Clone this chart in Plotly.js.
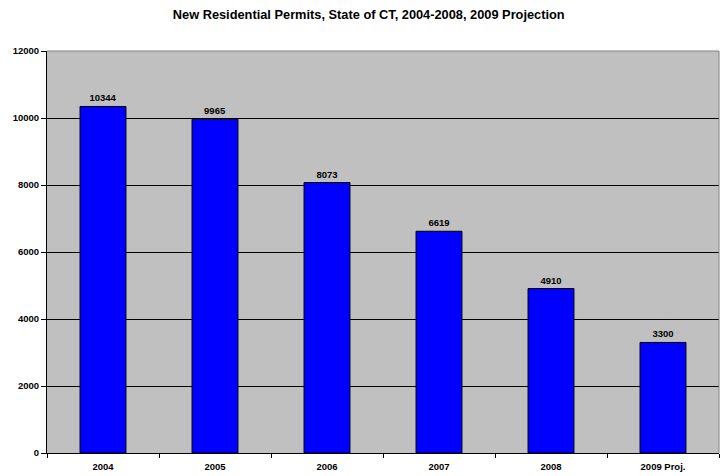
<!DOCTYPE html>
<html>
<head>
<meta charset="utf-8">
<script src="https://cdn.plot.ly/plotly-3.0.1.min.js"></script>
<style>html,body{margin:0;padding:0;background:#fff;}#chart{width:723px;height:476px;}</style>
</head>
<body>
<div id="chart"></div>
<script>
const categories = ["2004", "2005", "2006", "2007", "2008", "2009 Proj."];
const permits = [10344, 9965, 8073, 6619, 4910, 3300];
const yTicks = [0, 2000, 4000, 6000, 8000, 10000, 12000];

const font = "Liberation Sans, Arial, sans-serif";

Plotly.newPlot("chart", [{
  type: "bar",
  x: categories,
  y: permits,
  text: permits.map(String),
  textposition: "outside",
  cliponaxis: false,
  textfont: {family: font, size: 9.5, color: "#000", weight: "bold"},
  marker: {color: "#0000FF", line: {color: "#000", width: 1}},
  width: 0.41,
  hoverinfo: "x+y"
}], {
  width: 723, height: 476,
  margin: {l: 47, r: 4, t: 51, b: 23, pad: 0},
  paper_bgcolor: "#fff",
  plot_bgcolor: "#C0C0C0",
  showlegend: false,
  title: {text: "<b>New Residential Permits, State of CT, 2004-2008, 2009 Projection</b>",
          font: {family: font, size: 12.8, color: "#000"}, x: 0.51, xref: "container", xanchor: "center",
          y: 0.97, yanchor: "middle"},
  xaxis: {type: "category", tickson: "boundaries", ticks: "outside", ticklen: 4, tickcolor: "#000",
          ticklabelstandoff: 5,
          showline: true, linecolor: "#000", linewidth: 1, showgrid: false,
          tickfont: {family: font, size: 9.5, color: "#000", weight: "bold"}, fixedrange: true},
  yaxis: {range: [0, 12000], tickvals: yTicks, ticktext: yTicks.map(String), ticks: "outside", ticklen: 5, tickcolor: "#000",
          showline: true, linecolor: "#000", linewidth: 1, showgrid: true, gridcolor: "#000", gridwidth: 1,
          zeroline: false, tickfont: {family: font, size: 9.5, color: "#000", weight: "bold"}, fixedrange: true},
  shapes: [
    {type: "line", xref: "paper", yref: "paper", x0: 0, x1: 1, y0: 1, y1: 1, line: {color: "#808080", width: 1}},
    {type: "line", xref: "paper", yref: "paper", x0: 1, x1: 1, y0: 0, y1: 1, line: {color: "#808080", width: 1}}
  ],
  bargap: 0.59
}, {displayModeBar: false, staticPlot: true});
</script>
</body>
</html>
